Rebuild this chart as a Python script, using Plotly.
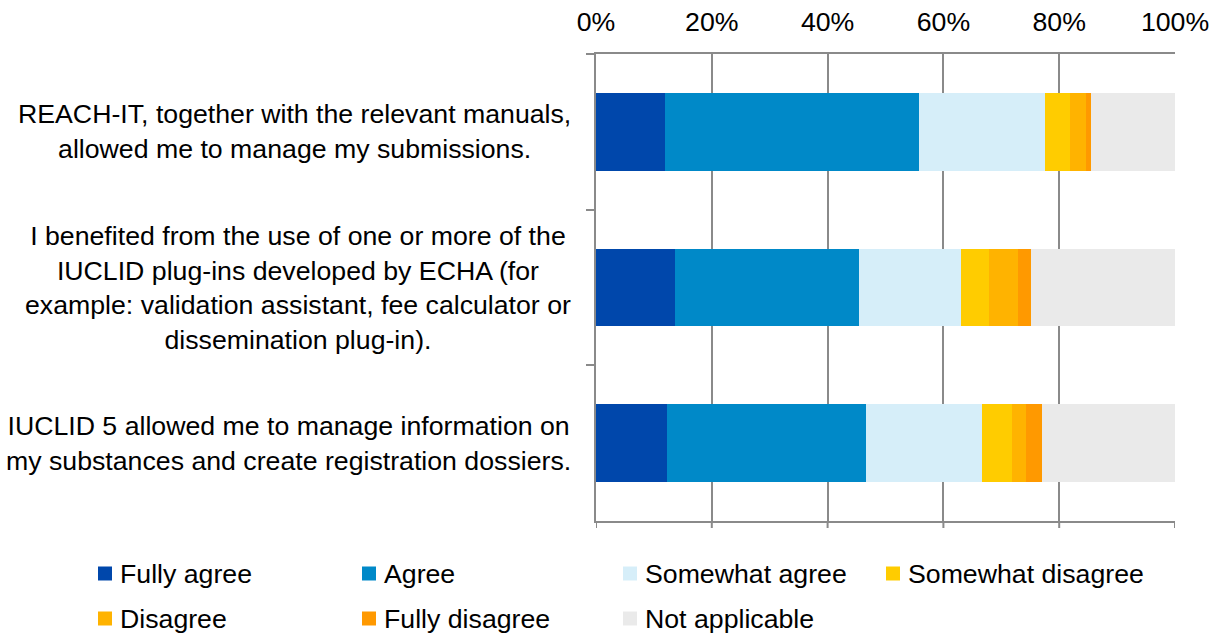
import plotly.graph_objects as go

categories = ["REACH-IT", "IUCLID plug-ins", "IUCLID 5"]
category_labels = [
    "REACH-IT, together with the relevant manuals,<br>allowed me to manage my submissions.",
    "I benefited from the use of one or more of the<br>IUCLID plug-ins developed by ECHA (for<br>example: validation assistant, fee calculator or<br>dissemination plug-in).",
    "IUCLID 5 allowed me to manage information on<br>my substances and create registration dossiers.",
]
series_names = ["Fully agree", "Agree", "Somewhat agree", "Somewhat disagree",
                "Disagree", "Fully disagree", "Not applicable"]
fully_agree = [12.0, 13.6, 12.2]
agree = [43.8, 31.9, 34.5]
somewhat_agree = [21.7, 17.5, 19.9]
somewhat_disagree = [4.3, 4.9, 5.3]
disagree = [2.8, 4.9, 2.4]
fully_disagree = [0.9, 2.3, 2.7]
not_applicable = [14.5, 24.9, 23.0]
series_values = [fully_agree, agree, somewhat_agree, somewhat_disagree,
                 disagree, fully_disagree, not_applicable]
colors = ["#0047AB", "#0089C8", "#D6EEF9", "#FFCC00", "#FFB300", "#FF9900", "#EAEAEA"]
x_ticks = [0, 20, 40, 60, 80, 100]

W, H = 1220, 634
L, R, T, B = 596, 1175, 54, 521
pw, ph = R - L, B - T

FONT = "Liberation Sans, Arial, sans-serif"
FS = 26.7
GRID = "#8A8A8A"


def px_x(v):
    return (v - L) / pw


def px_y(v):
    return (B - v) / ph


fig = go.Figure()
for name, vals, col in zip(series_names, series_values, colors):
    fig.add_trace(go.Bar(
        y=categories, x=[v / 100 for v in vals], name=name, orientation="h",
        marker=dict(color=col, line=dict(width=0)),
    ))

annotations = []
for cat, lab in zip(categories, category_labels):
    annotations.append(dict(
        x=0, xref="paper", y=cat, yref="y", text=lab, showarrow=False,
        xanchor="right", yanchor="middle", align="center", xshift=-23,
        font=dict(family=FONT, size=FS, color="#000000"),
    ))

shapes = []
# small tick marks below the bottom axis line, at the value ticks
for t in x_ticks:
    shapes.append(dict(type="line", xref="x", yref="paper", x0=t / 100, x1=t / 100,
                       y0=0, y1=-7 / ph, line=dict(color=GRID, width=2)))

# legend: 4 columns x 2 rows
col_left = [98, 362, 623, 886]
row_mid = [573.5, 618.5]
slots = [(0, 0), (1, 0), (2, 0), (3, 0), (0, 1), (1, 1), (2, 1)]
SW = 14
for (c, r), name, col in zip(slots, series_names, colors):
    x0 = col_left[c]
    ym = row_mid[r]
    shapes.append(dict(type="rect", xref="paper", yref="paper",
                       x0=px_x(x0), x1=px_x(x0 + SW),
                       y0=px_y(ym + SW / 2), y1=px_y(ym - SW / 2),
                       fillcolor=col, line=dict(width=0)))
    annotations.append(dict(
        x=px_x(x0 + SW + 6), xref="paper", y=px_y(ym), yref="paper",
        text=name, showarrow=False, xanchor="left", yanchor="middle",
        font=dict(family=FONT, size=FS, color="#000000"),
    ))

fig.update_layout(
    width=W, height=H,
    margin=dict(l=L, r=W - R, t=T, b=H - B, pad=0, autoexpand=False),
    paper_bgcolor="white", plot_bgcolor="white",
    barmode="stack", bargap=0.5,
    showlegend=False,
    annotations=annotations,
    shapes=shapes,
    xaxis=dict(
        side="top", range=[0, 1], tickvals=[t / 100 for t in x_ticks],
        tickformat=".0%", showgrid=True, gridcolor=GRID, gridwidth=2,
        zeroline=False, showline=True, linecolor=GRID, linewidth=2, mirror=True,
        ticks="outside", ticklen=10, tickcolor="rgba(0,0,0,0)",
        tickfont=dict(family=FONT, size=FS, color="#000000"),
        fixedrange=True,
    ),
    yaxis=dict(
        categoryorder="array", categoryarray=categories, autorange="reversed",
        showticklabels=False, showline=True, linecolor=GRID, linewidth=2,
        ticks="outside", tickson="boundaries", ticklen=8, tickcolor=GRID,
        tickwidth=2, showgrid=False, zeroline=False, fixedrange=True,
    ),
)

fig.write_html(
    "out.html",
    config={"displayModeBar": False},
    post_script="document.body.style.margin='0';document.body.style.overflow='hidden';",
)
